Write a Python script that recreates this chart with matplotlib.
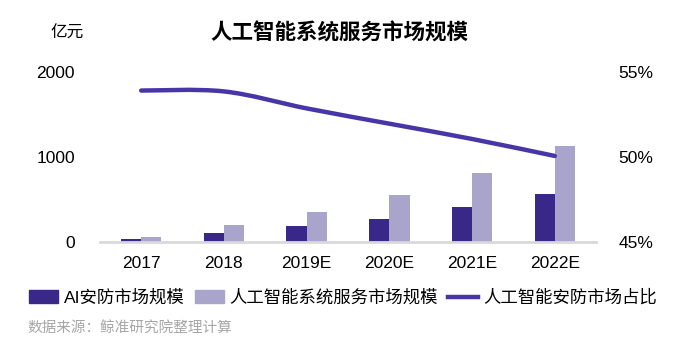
import numpy as np
import matplotlib.pyplot as plt
from matplotlib.path import Path
from matplotlib.patches import PathPatch, Patch
from matplotlib.lines import Line2D

plt.rcParams['font.family'] = ['Liberation Sans', 'Noto Sans CJK SC', 'DejaVu Sans']

years = ['2017', '2018', '2019E', '2020E', '2021E', '2022E']
ai_security = [27, 98, 180, 274, 404, 568]
ai_system = [62, 192, 345, 545, 804, 1133]
share = [53.9, 53.85, 52.85, 51.95, 51.05, 50.05]

dark = '#3A2889'
light = '#A9A4CC'
line_color = '#4A35A8'

fig = plt.figure(figsize=(6.79, 3.54), dpi=100)
ax = fig.add_axes([0.147, 0.317, 0.731, 0.48])
ax2 = ax.twinx()

x = np.arange(len(years))
w = 0.245
ax.bar(x - w / 2, ai_security, w, color=dark, zorder=2)
ax.bar(x + w / 2, ai_system, w, color=light, zorder=2)

ax.set_xlim(-0.5, len(years) - 0.5)
ax.set_ylim(0, 2000)
ax.set_yticks([0, 1000, 2000])
ax.set_xticks(x)
ax.set_xticklabels(years)

ax2.set_ylim(45, 55)
ax2.set_yticks([45, 50, 55])
ax2.set_yticklabels(['45%', '50%', '55%'])

for a in (ax, ax2):
    for s in ['top', 'right', 'left', 'bottom']:
        a.spines[s].set_visible(False)
    a.tick_params(length=0, labelsize=12.5, colors='black')
ax.spines['bottom'].set_visible(True)
ax.spines['bottom'].set_color('#D9D9D9')
ax.spines['bottom'].set_linewidth(2)
ax.tick_params(axis='y', pad=18)
ax.tick_params(axis='x', pad=10)
ax2.tick_params(axis='y', pad=16)

# smoothed line through the share points (Catmull-Rom style Bezier)
pts = np.column_stack([x, share]).astype(float)
ext = np.vstack([pts[0], pts, pts[-1]])
verts = [tuple(pts[0])]
codes = [Path.MOVETO]
for i in range(len(pts) - 1):
    p0, p1, p2, p3 = ext[i], ext[i + 1], ext[i + 2], ext[i + 3]
    c1 = p1 + (p2 - p0) / 6
    c2 = p2 - (p3 - p1) / 6
    verts += [tuple(c1), tuple(c2), tuple(p2)]
    codes += [Path.CURVE4] * 3
ax2.add_patch(PathPatch(Path(verts, codes), facecolor='none', edgecolor=line_color,
                        linewidth=3.2, capstyle='round', zorder=3))

fig.text(0.075, 0.905, '亿元', fontsize=12, ha='left', va='center')
fig.text(0.5, 0.905, '人工智能系统服务市场规模', fontsize=15.5, fontweight='bold',
         ha='center', va='center')

handles = [Patch(color=dark), Patch(color=light),
           Line2D([0], [0], color=line_color, linewidth=3.2)]
labels = ['AI安防市场规模', '人工智能系统服务市场规模', '人工智能安防市场占比']
fig.legend(handles, labels, loc='center', bbox_to_anchor=(0.505, 0.16),
           bbox_transform=fig.transFigure, ncol=3, frameon=False, fontsize=12.5,
           handlelength=1.7, handleheight=0.7, columnspacing=0.6, handletextpad=0.3)

fig.text(0.04, 0.075, '数据来源：鲸准研究院整理计算', fontsize=10.5, color='#A6A6A6',
         style='italic', ha='left', va='center')

fig.savefig('out.png', dpi=100)
